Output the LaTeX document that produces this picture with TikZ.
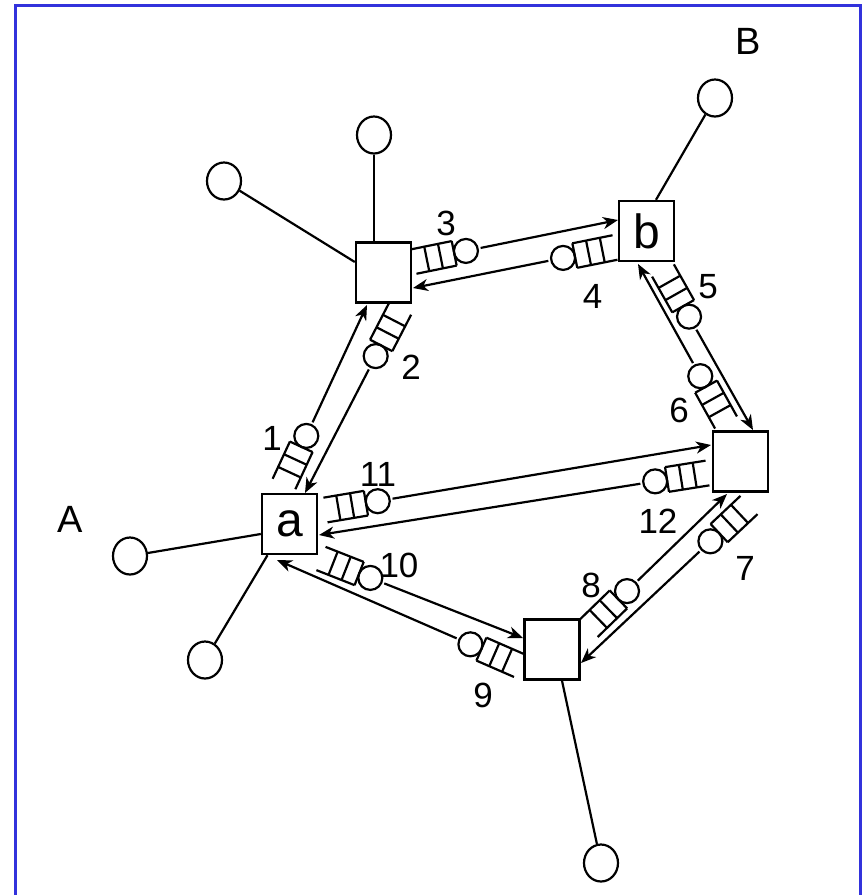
\documentclass[tikz,border=0pt]{standalone}
\usepackage{fontspec}
\setmainfont{Liberation Sans}
\usetikzlibrary{calc,arrows.meta,shapes.geometric}
\definecolor{framecol}{RGB}{50,50,220}
\tikzset{
  sw/.style={draw, line width=2.4pt, minimum width=55pt, minimum height=60pt, inner sep=0pt, fill=white, font=\fontsize{48}{48}\selectfont},
  term/.style={draw, ellipse, line width=2.2pt, minimum width=34pt, minimum height=37pt, inner sep=0pt},
  wire/.style={line width=2.2pt},
  arr/.style={line width=2.2pt, -{Stealth[length=15pt,width=12pt,inset=4.5pt]}},
  num/.style={inner sep=0pt, font=\fontsize{35}{35}\selectfont},
  big/.style={inner sep=0pt, font=\fontsize{38}{38}\selectfont},
}
\newcommand\qlink[2]{%
  \coordinate (qS) at #1;
  \coordinate (qE) at #2;
  \coordinate (qA) at ($(qS)!13pt!(qE)$);
  \coordinate (qB) at ($(qS)!27pt!(qE)$);
  \coordinate (qC) at ($(qS)!41pt!(qE)$);
  \coordinate (qO) at ($(qS)!53pt!(qE)$);
  \coordinate (qL) at ($(qS)!68pt!(qE)$);
  \draw[wire] ($(qS)!12.5pt!90:(qE)$) -- ($(qC)!12.5pt!-90:(qS)$);
  \draw[wire] ($(qS)!12.5pt!-90:(qE)$) -- ($(qC)!12.5pt!90:(qS)$);
  \foreach \q in {qA,qB,qC}{\draw[wire] ($(\q)!12.5pt!90:(qE)$) -- ($(\q)!12.5pt!-90:(qE)$);}
  \draw[wire] (qO) circle[radius=12pt];
  \draw[arr] (qL) -- (qE);
}
\begin{document}
\begin{tikzpicture}[x=1pt,y=-1pt]
\useasboundingbox (0,0) rectangle (864,895);
\clip (0,0) rectangle (864,895);
\draw[framecol,line width=3pt] (15,5) rectangle (860.5,930);

% switches
\node[sw] (a)  at (289.5,524) {\raisebox{-4pt}{a}};
\node[sw] (N1) at (383.5,272.5) {};
\node[sw] (b)  at (646.5,231) {b};
\node[sw] (N3) at (740.5,461.5) {};
\node[sw] (N4) at (552,649.5) {};

% terminals
\node[term] (T1) at (374,135) {};
\node[term] (T2) at (224,181) {};
\node[term] (T3) at (715,98) {};
\node[term] (TA) at (130,556) {};
\node[term] (T5) at (205,660) {};
\node[term] (T6) at (601,863) {};

\draw[wire] (T1) -- (T1 |- N1.north);
\draw[wire] (T2) -- ($(N1.west)+(0,-10.5)$);
\draw[wire] ($(b.north)+(9.5,0)$) -- (T3);
\draw[wire] (TA) -- ($(a.west)+(0,10)$);
\draw[wire] ($(a.south)+(-22,0)$) -- (T5);
\draw[wire] ($(N4.south)+(10,0)$) -- (T6);

% links with queues
\qlink{($(a.center)+(-5.5,-40)$)}{($(N1.center)+(-16.5,32.5)$)}
\qlink{($(N1.center)+(16.5,36.5)$)}{($(a.center)+(15.5,-31)$)}
\qlink{($(N1.center)+(30.5,-11)$)}{($(b.center)+(-28.5,-11)$)}
\qlink{($(b.center)+(-31.5,16.5)$)}{($(N1.center)+(29.5,15.5)$)}
\qlink{($(b.center)+(16.5,39.5)$)}{($(N3.center)+(12.5,-31.5)$)}
\qlink{($(N3.center)+(-14.5,-39)$)}{($(b.center)+(-8.5,33)$)}
\qlink{($(N3.center)+(8.5,43.5)$)}{($(N4.center)+(29,13.5)$)}
\qlink{($(N4.center)+(37,-21.5)$)}{($(N3.center)+(-13.5,32.5)$)}
\qlink{($(N4.center)+(-33,16)$)}{($(a.center)+(-12.5,36)$)}
\qlink{($(a.center)+(31.5,34.5)$)}{($(N4.center)+(-29,-11.5)$)}
\qlink{($(a.center)+(36,-14)$)}{($(N3.center)+(-29.5,-16.5)$)}
\qlink{($(N3.center)+(-33,11.5)$)}{($(a.center)+(29.5,11)$)}

% labels
\node[num] (l1)  at (272,438) {1};
\node[num] (l2)  at (411,367) {2};
\node[num] (l3)  at (446,223) {3};
\node[num] (l4)  at (592.5,296) {4};
\node[num] (l5)  at (708,287) {5};
\node[num] (l6)  at (679,410) {6};
\node[num] (l7)  at (745,568) {7};
\node[num] (l8)  at (591,585) {8};
\node[num] (l9)  at (483,695) {9};
\node[num] (l10) at (399,565) {10};
\node[num] (l11) at (378,474) {11};
\node[num] (l12) at (658,521) {12};
\node[big] (lA) at (70,519) {A};
\node[big] (lB) at (748,41) {B};
\end{tikzpicture}
\end{document}
